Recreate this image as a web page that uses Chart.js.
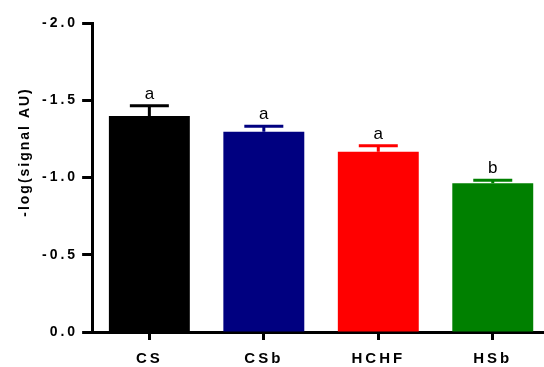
<!DOCTYPE html>
<html>
<head>
<meta charset="utf-8">
<script src="https://cdn.jsdelivr.net/npm/chart.js@4"></script>
<style>
  html, body { margin: 0; padding: 0; background: #fff; overflow: hidden; width: 544px; height: 367px; }
  #wrap { width: 544px; height: 367px; overflow: hidden; position: relative; }
  #c { position: absolute; left: 0; top: 0; }
</style>
</head>
<body>
<div id="wrap"><canvas id="c" width="550" height="371"></canvas></div>
<script>
const categories = ['CS', 'CSb', 'HCHF', 'HSb'];
const means = [-1.398, -1.296, -1.166, -0.963];
const errors = [0.067, 0.035, 0.039, 0.020];
const letters = ['a', 'a', 'a', 'b'];
const yTicks = [0, -0.5, -1.0, -1.5, -2.0];
const yTitle = '-log(signal AU)';

const barColors = ['#000000', '#000080', '#ff0000', '#008000'];
const FONT = "'Liberation Sans', Arial, sans-serif";

const spacingPlugin = {
  id: 'spacing',
  beforeUpdate(chart) { chart.ctx.letterSpacing = '3px'; },
  beforeLayout(chart) { chart.ctx.letterSpacing = '3px'; },
  beforeDraw(chart) { chart.ctx.letterSpacing = '3px'; }
};

const errorPlugin = {
  id: 'errbars',
  afterDatasetsDraw(chart) {
    const ctx = chart.ctx;
    const meta = chart.getDatasetMeta(0);
    const y = chart.scales.y;
    ctx.save();
    ctx.letterSpacing = '0px';
    meta.data.forEach((bar, i) => {
      const x = bar.x;
      const yBar = y.getPixelForValue(means[i]);
      const yTop = y.getPixelForValue(means[i] - errors[i]);
      ctx.strokeStyle = barColors[i];
      ctx.lineWidth = 3;
      ctx.lineCap = 'butt';
      ctx.beginPath();
      ctx.moveTo(x, yBar);
      ctx.lineTo(x, yTop);
      ctx.moveTo(x - 19.5, yTop);
      ctx.lineTo(x + 19.5, yTop);
      ctx.stroke();
      ctx.fillStyle = '#000';
      ctx.font = '17px ' + FONT;
      ctx.textAlign = 'center';
      ctx.textBaseline = 'alphabetic';
      ctx.fillText(letters[i], x, yTop - 7);
    });
    ctx.restore();
  }
};

const titlePlugin = {
  id: 'ytitle',
  afterDraw(chart) {
    const ctx = chart.ctx;
    ctx.save();
    ctx.letterSpacing = '2px';
    ctx.translate(25, 153);
    ctx.rotate(-Math.PI / 2);
    ctx.fillStyle = '#000';
    ctx.font = 'bold 14px ' + FONT;
    ctx.textAlign = 'center';
    ctx.textBaseline = 'middle';
    ctx.fillText(yTitle, 1, 0);
    ctx.restore();
  }
};

new Chart(document.getElementById('c'), {
  type: 'bar',
  data: {
    labels: categories,
    datasets: [{
      data: means,
      backgroundColor: barColors,
      borderWidth: 0,
      barPercentage: 0.707,
      categoryPercentage: 1.0
    }]
  },
  options: {
    responsive: false,
    animation: false,
    devicePixelRatio: 1,
    layout: { padding: { left: 38, right: 0, top: 23, bottom: -7 } },
    plugins: {
      legend: { display: false },
      tooltip: { enabled: false }
    },
    scales: {
      x: {
        grid: { drawOnChartArea: false, drawTicks: true, tickLength: 8, tickWidth: 3, tickColor: '#000', offset: false },
        border: { display: true, width: 3, color: '#000' },
        ticks: { color: '#000', font: { family: FONT, size: 15, weight: 'bold' }, padding: 10 }
      },
      y: {
        min: -2,
        max: 0,
        reverse: true,
        afterBuildTicks(scale) { scale.ticks = yTicks.map(v => ({ value: v })); },
        grid: { drawOnChartArea: false, drawTicks: true, tickLength: 10, tickWidth: 3, tickColor: '#000' },
        border: { display: true, width: 3, color: '#000' },
        ticks: {
          color: '#000',
          font: { family: FONT, size: 14, weight: 'bold' },
          padding: 4,
          callback(v) { return Number(v).toFixed(1); }
        }
      }
    }
  },
  plugins: [spacingPlugin, errorPlugin, titlePlugin]
});
</script>
</body>
</html>
